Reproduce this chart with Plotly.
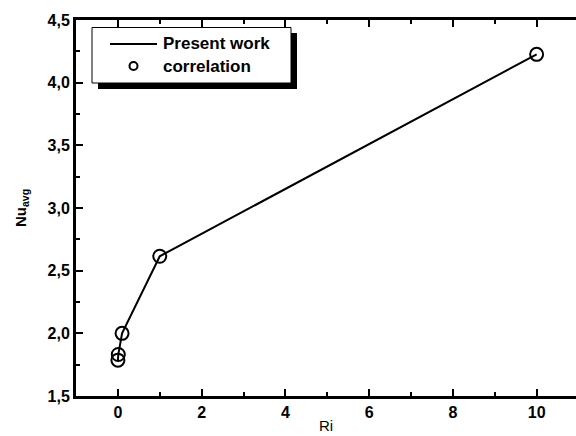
import plotly.graph_objects as go

ri_work = [0.001, 0.01, 0.1, 1, 10]
nu_work = [1.786, 1.831, 2.0, 2.615, 4.226]
ri_corr = [0.001, 0.01, 0.1, 1, 10]
nu_corr = [1.786, 1.831, 2.0, 2.615, 4.226]
x_ticks = [0, 2, 4, 6, 8, 10]
y_ticks = [1.5, 2.0, 2.5, 3.0, 3.5, 4.0, 4.5]
legend_names = ["Present work", "correlation"]

FONT = "Liberation Sans, Arial, sans-serif"
L, T, W, H = 76, 20, 500, 376


def px(x):
    return (x - L) / W


def py(y):
    return (T + H - y) / H


fig = go.Figure()
fig.add_trace(go.Scatter(x=ri_work, y=nu_work, mode="lines", name=legend_names[0],
                         line=dict(color="black", width=2), showlegend=False))
fig.add_trace(go.Scatter(x=ri_corr, y=nu_corr, mode="markers", name=legend_names[1],
                         marker=dict(symbol="circle-open", size=13, color="black",
                                     line=dict(width=2, color="black")), showlegend=False))

# manual legend: shadow, box, samples, labels
fig.add_shape(type="rect", xref="paper", yref="paper",
              x0=px(98), x1=px(297), y0=py(89), y1=py(33),
              fillcolor="black", line=dict(width=0))
fig.add_shape(type="rect", xref="paper", yref="paper",
              x0=px(92), x1=px(291), y0=py(83), y1=py(27.5),
              fillcolor="white", line=dict(width=1, color="black"))
fig.add_shape(type="line", xref="paper", yref="paper",
              x0=px(110), x1=px(157), y0=py(44), y1=py(44),
              line=dict(width=2, color="black"))
fig.add_shape(type="circle", xref="paper", yref="paper",
              x0=px(129.5), x1=px(137.5), y0=py(70), y1=py(62),
              line=dict(width=2, color="black"), fillcolor="white")
for name, yc in zip(legend_names, [44, 66]):
    fig.add_annotation(xref="paper", yref="paper", x=px(161), y=py(yc),
                       xanchor="left", yanchor="middle", showarrow=False,
                       text=name, font=dict(family=FONT, size=17, color="black", weight="bold"))

tickfont = dict(family=FONT, size=16, color="black", weight="bold")
fig.update_layout(
    width=576, height=436,
    margin=dict(l=L, r=0, t=T, b=436 - T - H),
    paper_bgcolor="white", plot_bgcolor="white",
    separators=", ",
    font=dict(family=FONT, size=14, color="black"),
    showlegend=False,
    xaxis=dict(range=[-1, 10.94], tickvals=x_ticks, tickfont=tickfont,
               showline=True, linecolor="black", linewidth=3, mirror="ticks",
               ticks="inside", ticklen=7, tickwidth=2, tickcolor="black",
               minor=dict(ticks="inside", ticklen=4, tickwidth=2, dtick=1, tickcolor="black"),
               showgrid=False, zeroline=False,
               title=dict(text="Ri", font=dict(family=FONT, size=15), standoff=1)),
    yaxis=dict(range=[1.5, 4.5], tickvals=y_ticks, tickformat=".1f", tickfont=tickfont,
               showline=True, linecolor="black", linewidth=3, mirror=False,
               ticks="inside", ticklen=7, tickwidth=2, tickcolor="black",
               minor=dict(ticks="inside", ticklen=4, tickwidth=2, dtick=0.25, tickcolor="black"),
               showgrid=False, zeroline=False,
               title=dict(text="<b>Nu<sub>avg</sub></b>", font=dict(family=FONT, size=15),
                          standoff=18)),
)

fig.write_html("out.html")
